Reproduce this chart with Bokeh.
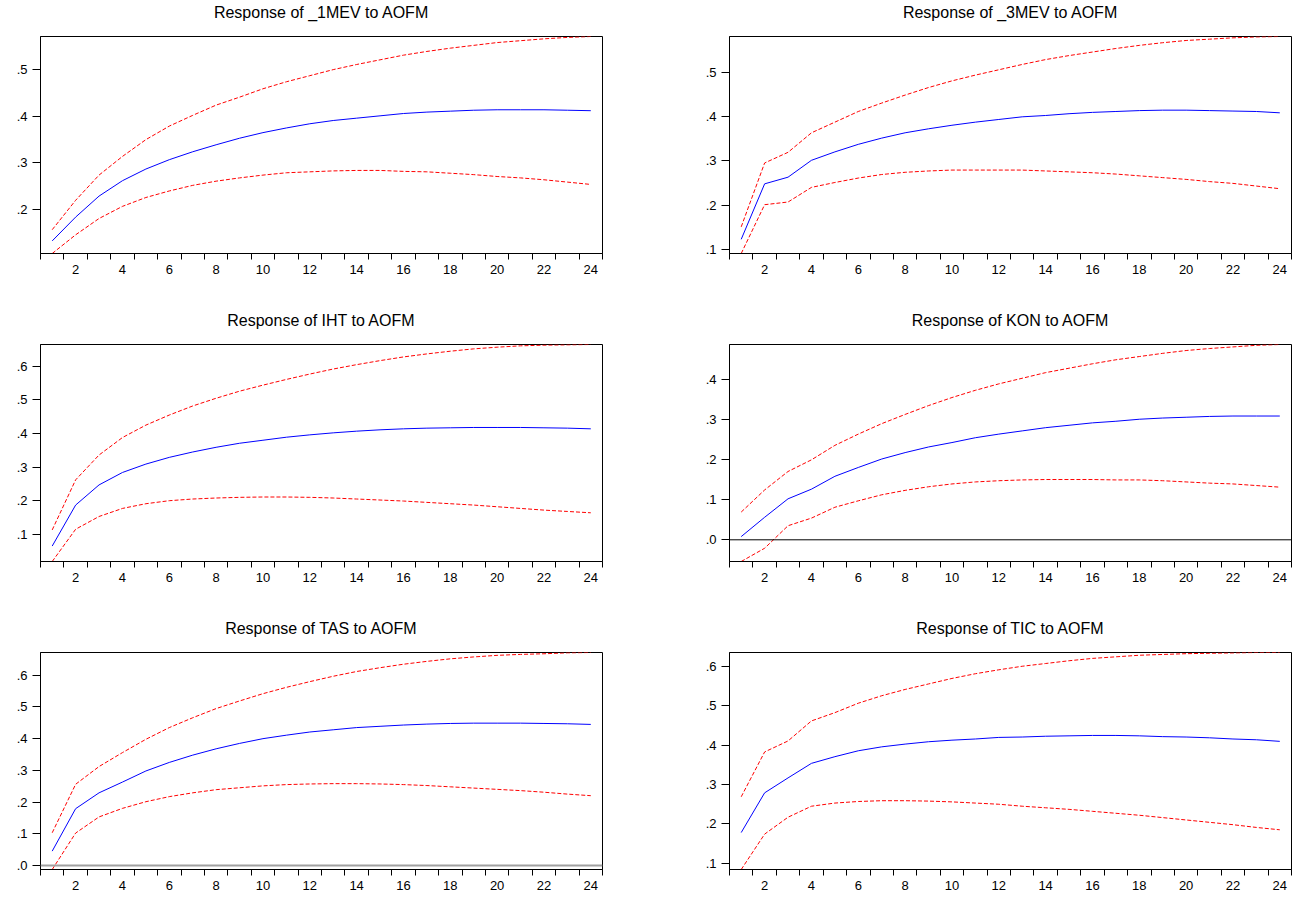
from bokeh.plotting import figure
from bokeh.layouts import gridplot
from bokeh.models import Range1d, FixedTicker, Span, Title
from bokeh.embed import file_html
from bokeh.resources import INLINE

periods = list(range(1, 25))
x_tick_labels = [2, 4, 6, 8, 10, 12, 14, 16, 18, 20, 22, 24]

# _1MEV
mev1_resp = [0.133, 0.184, 0.229, 0.262, 0.287, 0.307, 0.324, 0.339, 0.353, 0.365, 0.375, 0.384,
             0.391, 0.396, 0.401, 0.406, 0.409, 0.411, 0.413, 0.414, 0.414, 0.414, 0.413, 0.412]
mev1_upper = [0.157, 0.220, 0.274, 0.314, 0.350, 0.379, 0.402, 0.424, 0.441, 0.459, 0.474, 0.487,
              0.500, 0.511, 0.521, 0.531, 0.539, 0.546, 0.552, 0.558, 0.562, 0.566, 0.569, 0.571]
mev1_lower = [0.106, 0.146, 0.181, 0.207, 0.226, 0.240, 0.252, 0.261, 0.268, 0.274, 0.279, 0.281,
              0.283, 0.284, 0.284, 0.282, 0.281, 0.278, 0.275, 0.271, 0.268, 0.264, 0.259, 0.254]

# _3MEV
mev3_resp = [0.123, 0.248, 0.263, 0.301, 0.320, 0.337, 0.351, 0.363, 0.372, 0.380, 0.387, 0.393,
             0.399, 0.402, 0.406, 0.409, 0.411, 0.413, 0.414, 0.414, 0.413, 0.412, 0.411, 0.408]
mev3_upper = [0.151, 0.295, 0.319, 0.363, 0.387, 0.411, 0.430, 0.448, 0.465, 0.480, 0.493, 0.505,
              0.517, 0.528, 0.537, 0.545, 0.553, 0.560, 0.566, 0.571, 0.574, 0.577, 0.579, 0.580]
mev3_lower = [0.091, 0.201, 0.207, 0.240, 0.251, 0.261, 0.269, 0.274, 0.277, 0.279, 0.279, 0.279,
              0.279, 0.277, 0.275, 0.273, 0.270, 0.266, 0.262, 0.258, 0.253, 0.249, 0.243, 0.237]

# IHT
iht_resp = [0.065, 0.187, 0.247, 0.284, 0.309, 0.329, 0.345, 0.359, 0.371, 0.380, 0.389, 0.396,
            0.402, 0.407, 0.411, 0.414, 0.416, 0.417, 0.418, 0.418, 0.418, 0.417, 0.416, 0.414]
iht_upper = [0.113, 0.262, 0.336, 0.388, 0.425, 0.455, 0.482, 0.505, 0.526, 0.544, 0.561, 0.577,
             0.592, 0.605, 0.617, 0.628, 0.637, 0.645, 0.652, 0.657, 0.661, 0.663, 0.664, 0.665]
iht_lower = [0.019, 0.115, 0.153, 0.177, 0.191, 0.200, 0.205, 0.208, 0.210, 0.211, 0.211, 0.210,
             0.208, 0.205, 0.202, 0.199, 0.195, 0.191, 0.187, 0.182, 0.177, 0.172, 0.168, 0.164]

# KON
kon_resp = [0.008, 0.056, 0.102, 0.126, 0.158, 0.180, 0.201, 0.217, 0.231, 0.242, 0.254, 0.263,
            0.271, 0.279, 0.285, 0.291, 0.295, 0.300, 0.303, 0.305, 0.307, 0.308, 0.308, 0.308]
kon_upper = [0.069, 0.124, 0.170, 0.199, 0.235, 0.263, 0.289, 0.312, 0.334, 0.354, 0.372, 0.388,
             0.402, 0.416, 0.427, 0.438, 0.448, 0.456, 0.464, 0.471, 0.476, 0.480, 0.484, 0.486]
kon_lower = [-0.054, -0.021, 0.035, 0.054, 0.081, 0.097, 0.112, 0.123, 0.132, 0.139, 0.144, 0.147,
             0.149, 0.150, 0.150, 0.150, 0.149, 0.149, 0.147, 0.144, 0.141, 0.139, 0.135, 0.131]

# TAS
tas_resp = [0.045, 0.179, 0.229, 0.263, 0.298, 0.325, 0.348, 0.368, 0.385, 0.400, 0.411, 0.421,
            0.428, 0.435, 0.439, 0.443, 0.446, 0.448, 0.449, 0.449, 0.449, 0.448, 0.447, 0.445]
tas_upper = [0.103, 0.256, 0.312, 0.356, 0.398, 0.435, 0.466, 0.495, 0.519, 0.542, 0.562, 0.580,
             0.597, 0.612, 0.624, 0.635, 0.644, 0.652, 0.658, 0.663, 0.666, 0.668, 0.671, 0.672]
tas_lower = [-0.013, 0.102, 0.153, 0.180, 0.201, 0.217, 0.229, 0.239, 0.245, 0.251, 0.255, 0.257,
             0.258, 0.258, 0.257, 0.255, 0.252, 0.248, 0.244, 0.240, 0.236, 0.231, 0.225, 0.220]

# TIC
tic_resp = [0.178, 0.279, 0.317, 0.354, 0.371, 0.386, 0.396, 0.403, 0.409, 0.413, 0.416, 0.420,
            0.421, 0.423, 0.424, 0.425, 0.425, 0.424, 0.422, 0.421, 0.419, 0.416, 0.414, 0.410]
tic_upper = [0.269, 0.383, 0.411, 0.462, 0.483, 0.507, 0.526, 0.542, 0.556, 0.570, 0.582, 0.592,
             0.601, 0.608, 0.615, 0.621, 0.625, 0.629, 0.631, 0.633, 0.634, 0.635, 0.636, 0.636]
tic_lower = [0.084, 0.174, 0.217, 0.245, 0.253, 0.257, 0.259, 0.259, 0.258, 0.256, 0.253, 0.250,
             0.245, 0.241, 0.237, 0.232, 0.227, 0.222, 0.216, 0.210, 0.204, 0.198, 0.191, 0.185]

titles = ["Response of _1MEV to AOFM", "Response of _3MEV to AOFM",
          "Response of IHT to AOFM", "Response of KON to AOFM",
          "Response of TAS to AOFM", "Response of TIC to AOFM"]

y_ticks_1mev = [0.2, 0.3, 0.4, 0.5]
y_labels_1mev = [".2", ".3", ".4", ".5"]
y_ticks_3mev = [0.1, 0.2, 0.3, 0.4, 0.5]
y_labels_3mev = [".1", ".2", ".3", ".4", ".5"]
y_ticks_iht = [0.1, 0.2, 0.3, 0.4, 0.5, 0.6]
y_labels_iht = [".1", ".2", ".3", ".4", ".5", ".6"]
y_ticks_kon = [0.0, 0.1, 0.2, 0.3, 0.4]
y_labels_kon = [".0", ".1", ".2", ".3", ".4"]
y_ticks_tas = [0.0, 0.1, 0.2, 0.3, 0.4, 0.5, 0.6]
y_labels_tas = [".0", ".1", ".2", ".3", ".4", ".5", ".6"]
y_ticks_tic = [0.1, 0.2, 0.3, 0.4, 0.5, 0.6]
y_labels_tic = [".1", ".2", ".3", ".4", ".5", ".6"]

FONT = "Liberation Sans"
FRAME_W = 562
FRAME_H = 217
TOP = 36


def make_panel(title, resp, upper, lower, yticks, ylabels, zero_color, zero_width,
               left, right, bottom):
    lo = min(min(lower), min(resp), min(upper))
    hi = max(max(lower), max(resp), max(upper))
    p = figure(width=left + FRAME_W + right, height=TOP + FRAME_H + bottom,
               x_range=Range1d(0.5, 24.5), y_range=Range1d(lo, hi),
               output_backend="svg", toolbar_location=None, title=None,
               min_border_left=left, min_border_right=right,
               min_border_top=TOP, min_border_bottom=bottom)
    # spacer between frame and title (keeps the title higher above the frame)
    p.add_layout(Title(text=" ", text_font_size="8px", standoff=5), "above")
    p.add_layout(Title(text=title, align="center", text_font=FONT,
                       text_font_size="16px", text_font_style="normal",
                       text_color="#000000", standoff=0), "above")
    p.xgrid.visible = False
    p.ygrid.visible = False
    p.outline_line_color = "#000000"
    p.outline_line_width = 1
    p.background_fill_color = "white"
    p.border_fill_color = "white"

    if zero_color is not None:
        p.add_layout(Span(location=0, dimension="width", line_color=zero_color,
                          line_width=zero_width))

    p.line(periods, upper, line_color="#ff0000", line_width=1, line_dash="4 2")
    p.line(periods, lower, line_color="#ff0000", line_width=1, line_dash="4 2")
    p.line(periods, resp, line_color="#0000ff", line_width=1)

    xa = p.xaxis[0]
    xa.ticker = FixedTicker(ticks=x_tick_labels,
                            minor_ticks=[k + 0.5 for k in range(0, 25)])
    xa.major_tick_line_color = None
    xa.minor_tick_line_color = "#000000"
    xa.minor_tick_in = 0
    xa.minor_tick_out = 6
    xa.major_label_standoff = 5
    xa.major_label_text_font = FONT
    xa.major_label_text_font_size = "13px"
    xa.major_label_text_color = "#000000"
    xa.axis_line_color = "#000000"

    ya = p.yaxis[0]
    ya.ticker = FixedTicker(ticks=yticks)
    ya.major_label_overrides = {t: s for t, s in zip(yticks, ylabels)}
    ya.major_tick_in = 0
    ya.major_tick_out = 8
    ya.minor_tick_line_color = None
    ya.major_label_standoff = 5
    ya.major_label_text_font = FONT
    ya.major_label_text_font_size = "13px"
    ya.major_label_text_color = "#000000"
    ya.axis_line_color = "#000000"
    return p


p1 = make_panel(titles[0], mev1_resp, mev1_upper, mev1_lower, y_ticks_1mev, y_labels_1mev, None, 0, 40, 95, 55)
p2 = make_panel(titles[1], mev3_resp, mev3_upper, mev3_lower, y_ticks_3mev, y_labels_3mev, None, 0, 32, 12, 55)
p3 = make_panel(titles[2], iht_resp, iht_upper, iht_lower, y_ticks_iht, y_labels_iht, None, 0, 40, 95, 55)
p4 = make_panel(titles[3], kon_resp, kon_upper, kon_lower, y_ticks_kon, y_labels_kon, "#000000", 1, 32, 12, 55)
p5 = make_panel(titles[4], tas_resp, tas_upper, tas_lower, y_ticks_tas, y_labels_tas, "#a0a0a0", 2, 40, 95, 24)
p6 = make_panel(titles[5], tic_resp, tic_upper, tic_lower, y_ticks_tic, y_labels_tic, None, 0, 32, 12, 24)

grid = gridplot([[p1, p2], [p3, p4], [p5, p6]], toolbar_location=None)

with open("out.html", "w") as f:
    f.write(file_html(grid, INLINE))
